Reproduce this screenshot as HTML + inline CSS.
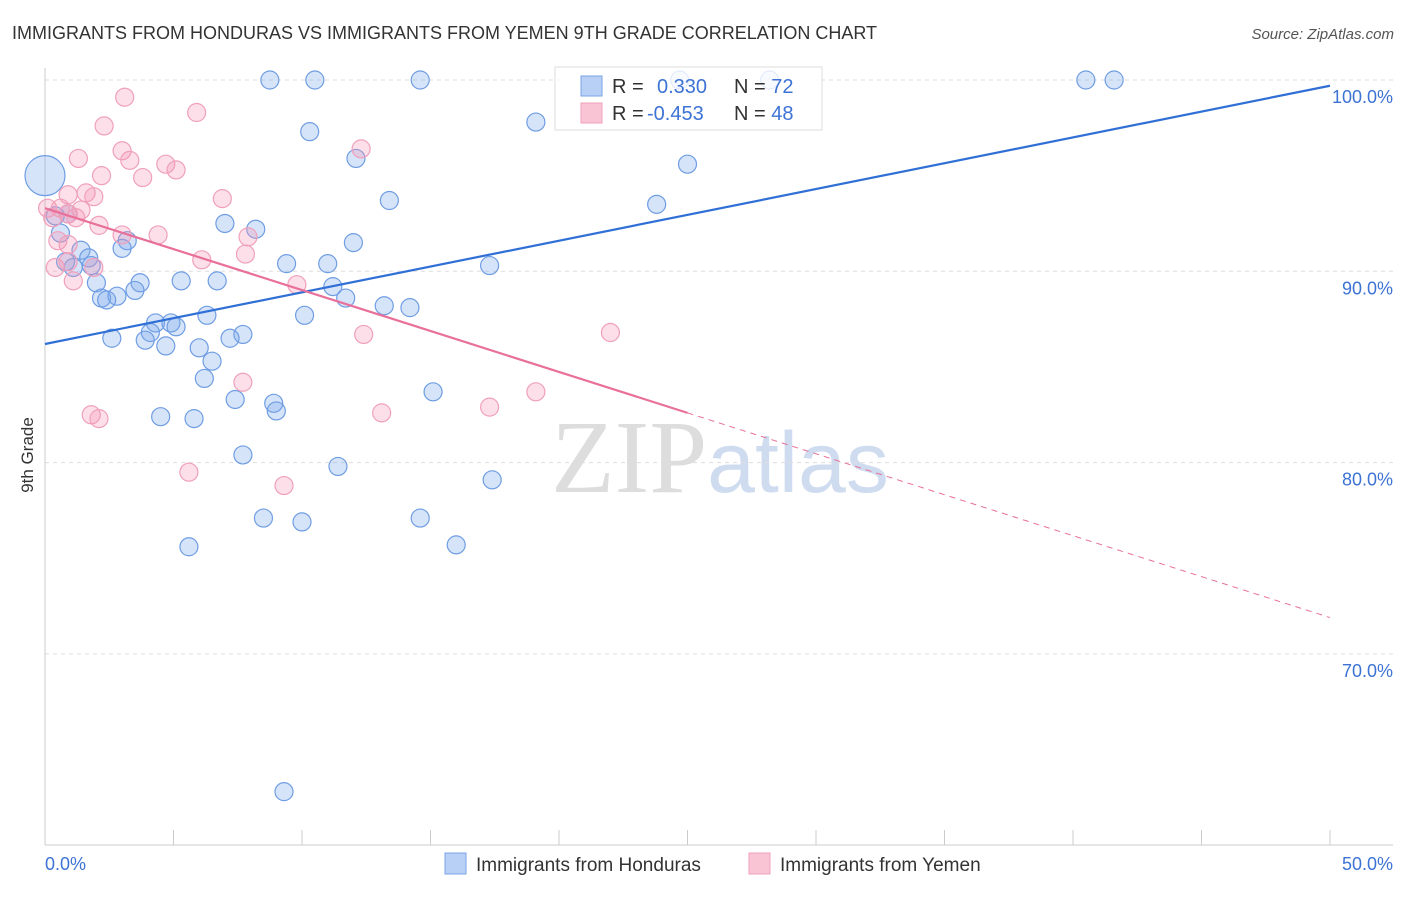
<!DOCTYPE html>
<html><head><meta charset="utf-8"><style>
html,body{margin:0;padding:0;background:#fff;}
body{width:1406px;height:892px;overflow:hidden;font-family:"Liberation Sans",sans-serif;}
</style></head><body>
<svg id="chart" width="1406" height="892" xmlns="http://www.w3.org/2000/svg" font-family="Liberation Sans, sans-serif">
<text x="12" y="39" font-size="18" fill="#333">IMMIGRANTS FROM HONDURAS VS IMMIGRANTS FROM YEMEN 9TH GRADE CORRELATION CHART</text>
<text x="1394" y="39" font-size="15" fill="#555" text-anchor="end" font-style="italic">Source: ZipAtlas.com</text>
<text transform="translate(33,455) rotate(-90)" font-size="17" fill="#333" text-anchor="middle">9th Grade</text>
<text x="720" y="492" font-size="104" text-anchor="middle"><tspan fill="#ddd" font-family="Liberation Serif, serif">ZIP</tspan><tspan fill="#cfdcf0" font-size="86">atlas</tspan></text>
<g id="grid"></g><g id="axes"></g><g id="pts"></g><g id="lines"></g>
<g>
<rect x="555" y="67" width="267" height="63" fill="rgba(255,255,255,0.8)" stroke="#ddd"/>
<rect x="581" y="76" width="21" height="20" fill="#b8d0f5" stroke="#7aa5e6"/>
<rect x="581" y="103" width="21" height="20" fill="#f9c4d4" stroke="#f0a0bb"/>
<text x="612" y="93" font-size="20" fill="#333">R = <tspan fill="#3d73d4" x="657">0.330</tspan><tspan x="734">N = </tspan><tspan fill="#3d73d4">72</tspan></text>
<text x="612" y="120" font-size="20" fill="#333">R = <tspan fill="#3d73d4" x="647">-0.453</tspan><tspan x="734">N = </tspan><tspan fill="#3d73d4">48</tspan></text>
</g>
<g>
<rect x="445" y="853" width="21" height="21" fill="#b8d0f5" stroke="#7aa5e6"/>
<text x="476" y="871" font-size="19" fill="#333">Immigrants from Honduras</text>
<rect x="749" y="853" width="21" height="21" fill="#f9c4d4" stroke="#f0a0bb"/>
<text x="780" y="871" font-size="19" fill="#333">Immigrants from Yemen</text>
</g>
</svg>
<script>
const xTicks=[0,5,10,15,20,25,30,35,40,45,50];
const yTicks=[100,90,80,70];
const yTickLabels=["100.0%","90.0%","80.0%","70.0%"];
const hondurasX=[0,8.75,10.5,14.6,40.5,41.6,24.7,28.2,10.3,19.1,12.1,25.0,13.4,23.8,7.0,8.2,12.0,3.2,3.0,1.4,0.8,1.7,1.1,1.8,9.4,11.0,17.3,0.6,0.9,0.4,5.3,6.7,3.7,2.0,11.2,3.5,2.8,2.2,2.4,11.7,13.2,14.2,6.3,10.1,4.3,4.9,5.1,2.6,4.1,3.9,7.7,7.2,4.7,6.0,6.5,6.2,15.1,7.4,8.9,9.0,4.5,5.8,7.7,11.4,17.4,8.5,10.0,14.6,5.6,16.0,9.3];
const hondurasY=[95.0,100,100,100,100,100,100,100,97.3,97.8,95.9,95.6,93.7,93.5,92.5,92.2,91.5,91.6,91.2,91.1,90.5,90.7,90.2,90.3,90.4,90.4,90.3,92.0,93.0,92.9,89.5,89.5,89.4,89.4,89.2,89.0,88.7,88.6,88.5,88.6,88.2,88.1,87.7,87.7,87.3,87.3,87.1,86.5,86.8,86.4,86.7,86.5,86.1,86.0,85.3,84.4,83.7,83.3,83.1,82.7,82.4,82.3,80.4,79.8,79.1,77.1,76.9,77.1,75.6,75.7,62.8];
const yemenX=[3.1,5.9,2.3,3.0,3.3,1.3,4.7,5.1,2.2,3.8,12.3,6.9,1.6,1.9,0.9,0.1,0.6,0.9,1.2,1.4,0.3,2.1,3.0,4.4,7.9,0.5,0.9,7.8,6.1,0.4,0.9,1.9,1.1,9.8,12.4,22.0,7.7,19.1,1.8,2.1,13.1,17.3,5.6,9.3];
const yemenY=[99.1,98.3,97.6,96.3,95.8,95.9,95.6,95.3,95.0,94.9,96.4,93.8,94.1,93.9,94.0,93.3,93.3,93.0,92.8,93.2,92.8,92.4,91.9,91.9,91.8,91.6,91.4,90.9,90.6,90.2,90.5,90.2,89.5,89.3,86.7,86.8,84.2,83.7,82.5,82.3,82.6,82.9,79.5,78.8];
const blueLine=[[0,86.2],[50,99.7]];
const pinkSolid=[[0,93.3],[25,82.6]];
const pinkDash=[[25,82.6],[50,71.9]];
const NS="http://www.w3.org/2000/svg";
const sx=v=>45+v*25.7, sy=v=>80+(100-v)*19.13;
function mk(tag,attrs,parent){const e=document.createElementNS(NS,tag);for(const k in attrs)e.setAttribute(k,attrs[k]);parent.appendChild(e);return e;}
const grid=document.getElementById('grid'),axes=document.getElementById('axes'),pts=document.getElementById('pts'),lines=document.getElementById('lines');
yTicks.forEach((t,i)=>{
 const l=mk('line',{x1:45,x2:1393,y1:sy(t),y2:sy(t),stroke:'#ddd','stroke-dasharray':'4,4'},grid);
 
 
 const tx=mk('text',{x:1393,y:sy(t)+23,'font-size':18,fill:'#3d73d4','text-anchor':'end'},axes);
 tx.textContent=yTickLabels[i];
 
 
});
const ax=mk('line',{x1:45,x2:1393,y1:845,y2:845,stroke:'#ccc'},axes);


const ay=mk('line',{x1:45,x2:45,y1:68,y2:845,stroke:'#ccc'},axes);


xTicks.forEach(t=>{
 const l=mk('line',{x1:sx(t),x2:sx(t),y1:830,y2:845,stroke:'#ccc'},axes);
 
 
});
const x0=mk('text',{x:45,y:870,'font-size':18,fill:'#3d73d4'},axes);x0.textContent=xTicks[0].toFixed(1)+'%';


const x1=mk('text',{x:1393,y:870,'font-size':18,fill:'#3d73d4','text-anchor':'end'},axes);x1.textContent=xTicks[xTicks.length-1].toFixed(1)+'%';


hondurasX.forEach((x,i)=>{
 const c=mk('circle',{cx:sx(x),cy:sy(hondurasY[i]),r:i===0?20:9,fill:'rgba(120,165,235,0.3)',stroke:'#6f9de3','stroke-width':1.2},pts);
 
 
});
yemenX.forEach((x,i)=>{
 const c=mk('circle',{cx:sx(x),cy:sy(yemenY[i]),r:9,fill:'rgba(245,150,180,0.3)',stroke:'#f0a0bb','stroke-width':1.2},pts);
 
 
});
const bl=mk('line',{x1:sx(blueLine[0][0]),y1:sy(blueLine[0][1]),x2:sx(blueLine[1][0]),y2:sy(blueLine[1][1]),stroke:'#2f6fd6','stroke-width':2.2},lines);


const pl=mk('line',{x1:sx(pinkSolid[0][0]),y1:sy(pinkSolid[0][1]),x2:sx(pinkSolid[1][0]),y2:sy(pinkSolid[1][1]),stroke:'#e8709a','stroke-width':2.2},lines);


const pd=mk('line',{x1:sx(pinkDash[0][0]),y1:sy(pinkDash[0][1]),x2:sx(pinkDash[1][0]),y2:sy(pinkDash[1][1]),stroke:'#e8709a','stroke-width':1,'stroke-dasharray':'6,5'},lines);


</script>
</body></html>
